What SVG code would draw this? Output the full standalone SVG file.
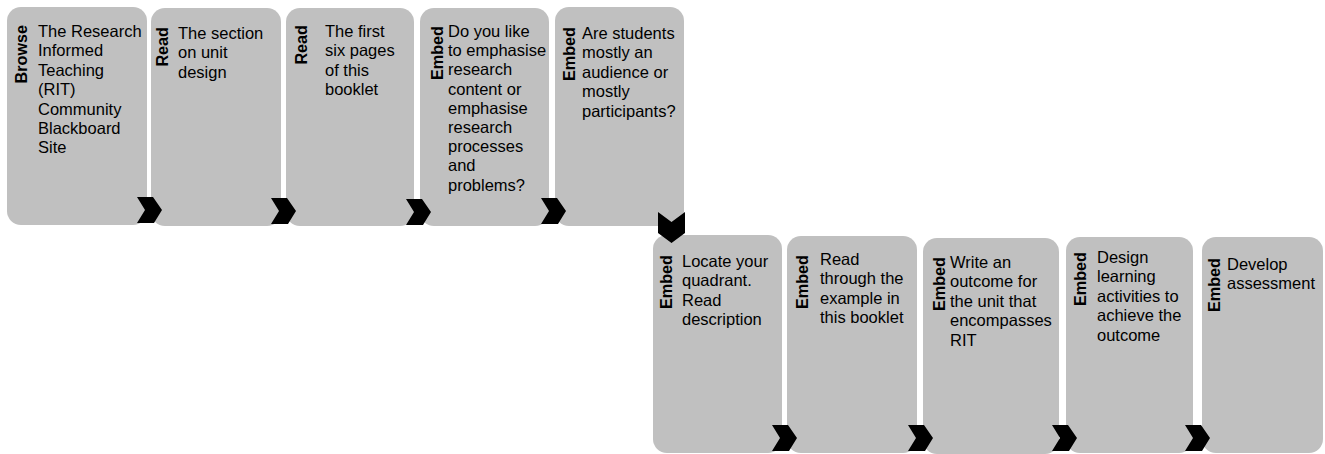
<svg xmlns="http://www.w3.org/2000/svg" width="1325" height="454" viewBox="0 0 1325 454">
<defs>
<style>
.card{fill:#c0c0c0;}
.lab{font-family:"Liberation Sans",Arial,sans-serif;font-size:16.2px;font-weight:bold;fill:#000;text-anchor:end;}
.txt{font-family:"Liberation Sans",Arial,sans-serif;font-size:16.5px;fill:#000;}
.chev{fill:#000;}
</style>
<path id="chr" d="M0,0 L16,0 L25,13 L17,26 L0,26 L8,13 Z"/>
</defs>
<rect width="1325" height="454" fill="#fff"/>
<g id="node1">
<rect class="card" x="7" y="7" width="140" height="218" rx="14"/>
<text class="lab" transform="translate(27,25) rotate(-90)">Browse</text>
<text class="txt" x="38" y="37"><tspan x="38">The Research</tspan><tspan x="38" dy="19.4">Informed</tspan><tspan x="38" dy="19.4">Teaching</tspan><tspan x="38" dy="19.4">(RIT)</tspan><tspan x="38" dy="19.4">Community</tspan><tspan x="38" dy="19.4">Blackboard</tspan><tspan x="38" dy="19.4">Site</tspan></text>
</g>
<g id="node2">
<rect class="card" x="151" y="8" width="130" height="218" rx="14"/>
<text class="lab" transform="translate(168,27) rotate(-90)">Read</text>
<text class="txt" x="178" y="39"><tspan x="178">The section</tspan><tspan x="178" dy="19.4">on unit</tspan><tspan x="178" dy="19.4">design</tspan></text>
</g>
<g id="node3">
<rect class="card" x="286" y="8" width="128" height="218" rx="14"/>
<text class="lab" transform="translate(307,25) rotate(-90)">Read</text>
<text class="txt" x="325" y="37"><tspan x="325">The first</tspan><tspan x="325" dy="19.4">six pages</tspan><tspan x="325" dy="19.4">of this</tspan><tspan x="325" dy="19.4">booklet</tspan></text>
</g>
<g id="node4">
<rect class="card" x="420" y="8" width="129" height="218" rx="14"/>
<text class="lab" transform="translate(443,26) rotate(-90)">Embed</text>
<text class="txt" x="448" y="37"><tspan x="448">Do you like</tspan><tspan x="448" dy="19.2">to emphasise</tspan><tspan x="448" dy="19.2">research</tspan><tspan x="448" dy="19.2">content or</tspan><tspan x="448" dy="19.2">emphasise</tspan><tspan x="448" dy="19.2">research</tspan><tspan x="448" dy="19.2">processes</tspan><tspan x="448" dy="19.2">and</tspan><tspan x="448" dy="19.2">problems?</tspan></text>
</g>
<g id="node5">
<rect class="card" x="555" y="7" width="129" height="219" rx="14"/>
<text class="lab" transform="translate(575,27) rotate(-90)">Embed</text>
<text class="txt" x="582" y="39"><tspan x="582">Are students</tspan><tspan x="582" dy="19.4">mostly an</tspan><tspan x="582" dy="19.4">audience or</tspan><tspan x="582" dy="19.4">mostly</tspan><tspan x="582" dy="19.4">participants?</tspan></text>
</g>
<g id="node6">
<rect class="card" x="653" y="235" width="129" height="218" rx="14"/>
<text class="lab" transform="translate(672,255) rotate(-90)">Embed</text>
<text class="txt" x="682" y="267"><tspan x="682">Locate your</tspan><tspan x="682" dy="19.4">quadrant.</tspan><tspan x="682" dy="19.4">Read</tspan><tspan x="682" dy="19.4">description</tspan></text>
</g>
<g id="node7">
<rect class="card" x="787" y="236" width="130" height="217" rx="14"/>
<text class="lab" transform="translate(808,255) rotate(-90)">Embed</text>
<text class="txt" x="820" y="265"><tspan x="820">Read</tspan><tspan x="820" dy="19.4">through the</tspan><tspan x="820" dy="19.4">example in</tspan><tspan x="820" dy="19.4">this booklet</tspan></text>
</g>
<g id="node8">
<rect class="card" x="923" y="238" width="136" height="216" rx="14"/>
<text class="lab" transform="translate(945,257) rotate(-90)">Embed</text>
<text class="txt" x="950" y="268"><tspan x="950">Write an</tspan><tspan x="950" dy="19.4">outcome for</tspan><tspan x="950" dy="19.4">the unit that</tspan><tspan x="950" dy="19.4">encompasses</tspan><tspan x="950" dy="19.4">RIT</tspan></text>
</g>
<g id="node9">
<rect class="card" x="1066" y="237" width="127" height="216" rx="14"/>
<text class="lab" transform="translate(1086,252) rotate(-90)">Embed</text>
<text class="txt" x="1097" y="263"><tspan x="1097">Design</tspan><tspan x="1097" dy="19.4">learning</tspan><tspan x="1097" dy="19.4">activities to</tspan><tspan x="1097" dy="19.4">achieve the</tspan><tspan x="1097" dy="19.4">outcome</tspan></text>
</g>
<g id="node10">
<rect class="card" x="1202" y="237" width="121" height="216" rx="14"/>
<text class="lab" transform="translate(1220,258) rotate(-90)">Embed</text>
<text class="txt" x="1227" y="270"><tspan x="1227">Develop</tspan><tspan x="1227" dy="19.4">assessment</tspan></text>
</g>
<g id="connectors" class="chev">
<use href="#chr" x="137" y="197"/>
<use href="#chr" x="271" y="198"/>
<use href="#chr" x="406" y="199"/>
<use href="#chr" x="541" y="198"/>
<path d="M658,212 L671.5,222 L685,212 L685,233 L671.5,243 L658,233 Z"/>
<use href="#chr" x="772" y="425"/>
<use href="#chr" x="908" y="425"/>
<use href="#chr" x="1052" y="425"/>
<use href="#chr" x="1185" y="425"/>
</g>
</svg>
